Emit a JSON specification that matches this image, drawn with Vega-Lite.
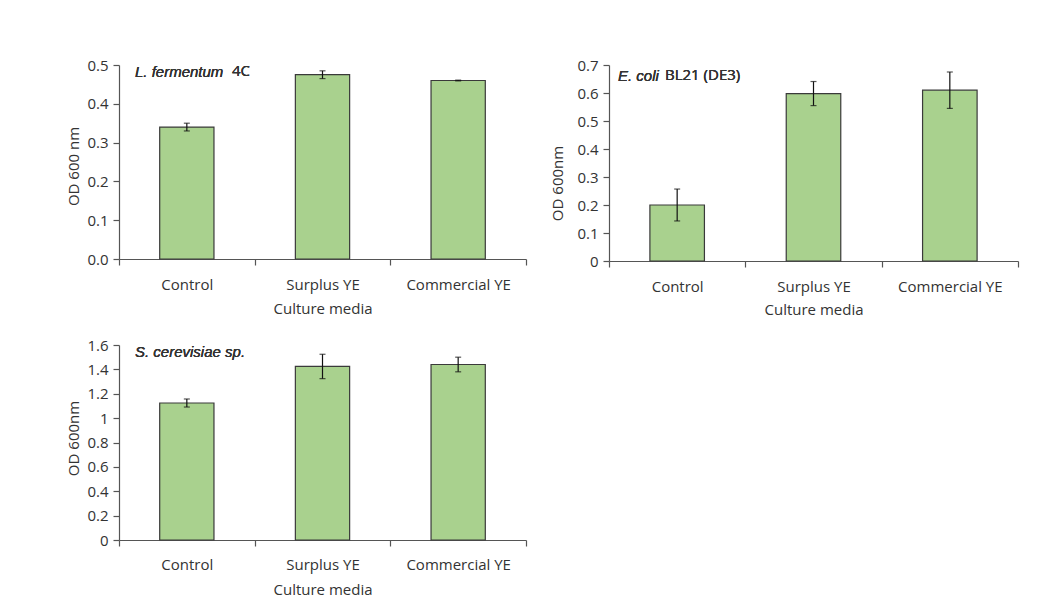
{
  "$schema": "https://vega.github.io/schema/vega-lite/v6.json",
  "background": "white",
  "padding": {"left": 66, "top": 58, "right": 10, "bottom": 5},
  "datasets": {
    "fermentum": [
      {"media": "Control", "od": 0.34, "err": 0.01},
      {"media": "Surplus YE", "od": 0.475, "err": 0.01},
      {"media": "Commercial YE", "od": 0.46, "err": 0.001}
    ],
    "ecoli": [
      {"media": "Control", "od": 0.2, "err": 0.057},
      {"media": "Surplus YE", "od": 0.598, "err": 0.043},
      {"media": "Commercial YE", "od": 0.61, "err": 0.065}
    ],
    "cerevisiae": [
      {"media": "Control", "od": 1.124, "err": 0.033},
      {"media": "Surplus YE", "od": 1.424, "err": 0.1},
      {"media": "Commercial YE", "od": 1.44, "err": 0.06}
    ]
  },
  "config": {
    "font": "Open Sans",
    "view": {"stroke": null},
    "text": {"font": "Open Sans", "fontSize": 15, "fontWeight": 400, "color": "#333333"},
    "axis": {
      "labelFont": "Open Sans",
      "titleFont": "Open Sans",
      "labelFontSize": 15,
      "titleFontSize": 15,
      "titleFontWeight": "normal",
      "labelColor": "#333333",
      "titleColor": "#333333",
      "domainColor": "#555555",
      "tickColor": "#555555",
      "domainWidth": 1.2,
      "tickWidth": 1.2,
      "tickSize": 6,
      "grid": false
    }
  },
  "vconcat": [
    {
      "hconcat": [
        {
          "width": 407,
          "height": 194,
          "data": {"name": "fermentum"},
          "encoding": {
            "x": {
              "field": "media", "type": "nominal", "sort": null,
              "scale": {"paddingInner": 0, "paddingOuter": 0},
              "axis": {"title": "Culture media", "labelAngle": 0, "tickBand": "extent", "labelPadding": 12, "titlePadding": 9}
            },
            "y": {
              "field": "od", "type": "quantitative",
              "scale": {"domain": [0, 0.5], "nice": false},
              "axis": {"title": "OD 600 nm", "values": [0, 0.1, 0.2, 0.3, 0.4, 0.5], "format": ".1f", "labelPadding": 5, "titleX": -45.5, "titleY": 101, "titleBaseline": "middle"}
            }
          },
          "layer": [
            {"mark": {"type": "bar", "width": {"band": 0.4}, "fill": "#a9d18e", "stroke": "#3a3a3a", "strokeWidth": 1.2}},
            {"mark": {"type": "errorbar", "color": "#111111", "thickness": 1.2, "ticks": {"size": 6}}, "encoding": {"yError": {"field": "err"}}},
            {"mark": {"type": "text", "text": "L. fermentum", "font": "Liberation Sans", "fontSize": 15, "fontStyle": "italic", "fontWeight": "normal", "align": "left", "baseline": "top", "dx": 16, "dy": 0},
             "encoding": {"x": {"datum": "Control", "bandPosition": 0}, "y": {"datum": 0.5}}},
            {"mark": {"type": "text", "text": "4C", "align": "left", "baseline": "top", "dx": 113, "dy": -1},
             "encoding": {"x": {"datum": "Control", "bandPosition": 0}, "y": {"datum": 0.5}}}
          ]
        },
        {
          "width": 409,
          "height": 196,
          "data": {"name": "ecoli"},
          "encoding": {
            "x": {
              "field": "media", "type": "nominal", "sort": null,
              "scale": {"paddingInner": 0, "paddingOuter": 0},
              "axis": {"title": "Culture media", "labelAngle": 0, "tickBand": "extent", "labelPadding": 12, "titlePadding": 8}
            },
            "y": {
              "field": "od", "type": "quantitative",
              "scale": {"domain": [0, 0.7], "nice": false},
              "axis": {"title": "OD 600nm", "values": [0, 0.1, 0.2, 0.3, 0.4, 0.5, 0.6, 0.7], "format": "~g", "labelPadding": 5, "titleX": -52, "titleY": 118, "titleBaseline": "middle"}
            }
          },
          "layer": [
            {"mark": {"type": "bar", "width": {"band": 0.4}, "fill": "#a9d18e", "stroke": "#3a3a3a", "strokeWidth": 1.2}},
            {"mark": {"type": "errorbar", "color": "#111111", "thickness": 1.2, "ticks": {"size": 6}}, "encoding": {"yError": {"field": "err"}}},
            {"mark": {"type": "text", "text": "E. coli", "font": "Liberation Sans", "fontSize": 15, "fontStyle": "italic", "fontWeight": "normal", "align": "left", "baseline": "top", "dx": 9, "dy": 4},
             "encoding": {"x": {"datum": "Control", "bandPosition": 0}, "y": {"datum": 0.7}}},
            {"mark": {"type": "text", "text": "BL21 (DE3)", "align": "left", "baseline": "top", "dx": 56, "dy": 3},
             "encoding": {"x": {"datum": "Control", "bandPosition": 0}, "y": {"datum": 0.7}}}
          ]
        }
      ],
      "spacing": 23
    },
    {
      "width": 407,
      "height": 195,
      "data": {"name": "cerevisiae"},
      "encoding": {
        "x": {
          "field": "media", "type": "nominal", "sort": null,
          "scale": {"paddingInner": 0, "paddingOuter": 0},
          "axis": {"title": "Culture media", "labelAngle": 0, "tickBand": "extent", "labelPadding": 11, "titlePadding": 10}
        },
        "y": {
          "field": "od", "type": "quantitative",
          "scale": {"domain": [0, 1.6], "nice": false},
          "axis": {"title": "OD 600nm", "values": [0, 0.2, 0.4, 0.6, 0.8, 1, 1.2, 1.4, 1.6], "format": "~g", "labelPadding": 5, "titleX": -45.5, "titleY": 93, "titleBaseline": "middle"}
        }
      },
      "layer": [
        {"mark": {"type": "bar", "width": {"band": 0.4}, "fill": "#a9d18e", "stroke": "#3a3a3a", "strokeWidth": 1.2}},
        {"mark": {"type": "errorbar", "color": "#111111", "thickness": 1.2, "ticks": {"size": 6}}, "encoding": {"yError": {"field": "err"}}},
        {"mark": {"type": "text", "text": "S. cerevisiae sp.", "font": "Liberation Sans", "fontSize": 15, "fontStyle": "italic", "fontWeight": "normal", "align": "left", "baseline": "top", "dx": 16, "dy": 0},
         "encoding": {"x": {"datum": "Control", "bandPosition": 0}, "y": {"datum": 1.6}}}
      ]
    }
  ],
  "spacing": 21
}
